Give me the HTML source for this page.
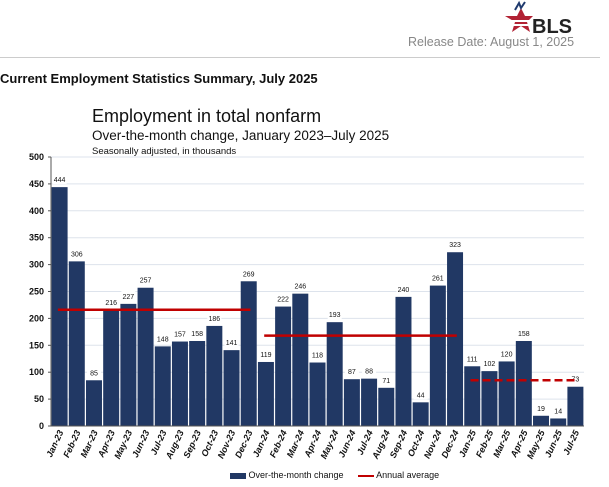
<!DOCTYPE html>
<html><head><meta charset="utf-8"><style>
body{margin:0;width:609px;height:487px;background:#fff;overflow:hidden;font-family:"Liberation Sans",sans-serif;position:relative}
.a{position:absolute;white-space:nowrap}
</style></head><body>
<div class="a" style="left:503px;top:0px;width:72px;height:36px">
<svg width="72" height="36" viewBox="0 0 72 36"><polygon points="2,16 14,16 18,8 22,16 30,16 24,22 27,32 18,26 9,32 12,22" fill="#b22234"/><rect x="4" y="20" width="24" height="2" fill="#fff"/><rect x="6" y="24" width="22" height="2" fill="#fff"/><path d="M12,10 L16,3 L18,8 L22,2" stroke="#1f3a6e" stroke-width="2" fill="none"/><text x="29" y="33" font-family="Liberation Sans" font-weight="bold" font-size="20" fill="#222">BLS</text></svg></div>
<div class="a" style="left:408px;top:35px;font-size:12.5px;color:#888">Release Date: August 1, 2025</div>
<div class="a" style="left:0;top:57px;width:600px;height:1px;background:#ccc"></div>
<div class="a" style="left:0;top:71px;font-size:13px;font-weight:bold;color:#111">Current Employment Statistics Summary, July 2025</div>
<div class="a" style="left:92px;top:106px;font-size:18px;color:#111">Employment in total nonfarm</div>
<div class="a" style="left:92px;top:128px;font-size:13.5px;color:#111">Over-the-month change, January 2023–July 2025</div>
<div class="a" style="left:92px;top:146px;font-size:9.5px;color:#111">Seasonally adjusted, in thousands</div>
<svg id="chart" class="a" style="left:0;top:0" width="609" height="487"></svg>
<script>
const categories=["Jan-23","Feb-23","Mar-23","Apr-23","May-23","Jun-23","Jul-23","Aug-23","Sep-23","Oct-23","Nov-23","Dec-23","Jan-24","Feb-24","Mar-24","Apr-24","May-24","Jun-24","Jul-24","Aug-24","Sep-24","Oct-24","Nov-24","Dec-24","Jan-25","Feb-25","Mar-25","Apr-25","May-25","Jun-25","Jul-25"];
const values=[444,306,85,216,227,257,148,157,158,186,141,269,119,222,246,118,193,87,88,71,240,44,261,323,111,102,120,158,19,14,73];
const yTicks=[0,50,100,150,200,250,300,350,400,450,500];
const avgStart=[0,12,24];
const avgEnd=[11,23,30];
const avgValues=[216,168,85];
const NS="http://www.w3.org/2000/svg",svg=document.getElementById('chart');
const x0=51,x1=584,y0=426,y1=157,slot=(x1-x0)/categories.length;
const X=i=>x0+i*slot, Y=v=>y0-(v/500)*(y0-y1);
function mk(t,a){const e=document.createElementNS(NS,t);for(const k in a)e.setAttribute(k,a[k]);svg.appendChild(e);return e;}
yTicks.forEach(t=>{
 if(t>0){const g=mk('line',{x1:x0,x2:x1,y1:Y(t),y2:Y(t),stroke:'#dde3ec','stroke-width':1});
 
 }
 const l=mk('text',{x:44,y:Y(t)+3,'text-anchor':'end','font-size':9,'font-weight':'bold','font-family':'Liberation Sans',fill:'#111'});l.textContent=t;
 
 
 const tk=mk('line',{x1:x0-3,x2:x0,y1:Y(t),y2:Y(t),stroke:'#555'});
 
 
});
values.forEach((v,i)=>{
 const b=mk('rect',{x:X(i)+0.6,y:Y(v),width:slot-1.2,height:y0-Y(v),fill:'#213864'});
 
 
 const bg=mk('rect',{x:X(i)+slot/2-7,y:Y(v)-13,width:14,height:10,fill:'#fff'});
 
 
 const t=mk('text',{x:X(i)+slot/2,y:Y(v)-5,'text-anchor':'middle','font-size':7,'font-family':'Liberation Sans',fill:'#111'});t.textContent=v;
 
 
 const c=mk('text',{transform:`translate(${X(i)+slot/2+4},${y0+6}) rotate(-65)`,'text-anchor':'end','font-size':9,'font-weight':'bold','font-style':'italic','font-family':'Liberation Sans',fill:'#111'});c.textContent=categories[i];
 
 
});
const ax=mk('line',{x1:x0,x2:x1,y1:y0,y2:y0,stroke:'#555'});


const ay=mk('line',{x1:x0,x2:x0,y1:y1,y2:y0,stroke:'#555'});


avgValues.forEach((v,k)=>{
 const a={x1:X(avgStart[k])+slot*0.4,x2:X(avgEnd[k])+slot*0.6,y1:Y(v),y2:Y(v),stroke:'#c00000','stroke-width':2.5};
 if(k===2)a['stroke-dasharray']='8,4';
 const l=mk('line',a);
 
 
});
</script>
<div class="a" style="left:230px;top:470px;font-size:9px;color:#111">
<span><span style="display:inline-block;width:16px;height:6px;background:#213864;vertical-align:middle"></span> Over-the-month change</span>
<span style="margin-left:12px"><span style="display:inline-block;width:16px;height:2px;background:#c00000;vertical-align:middle"></span> Annual average</span>
</div>
</body></html>
